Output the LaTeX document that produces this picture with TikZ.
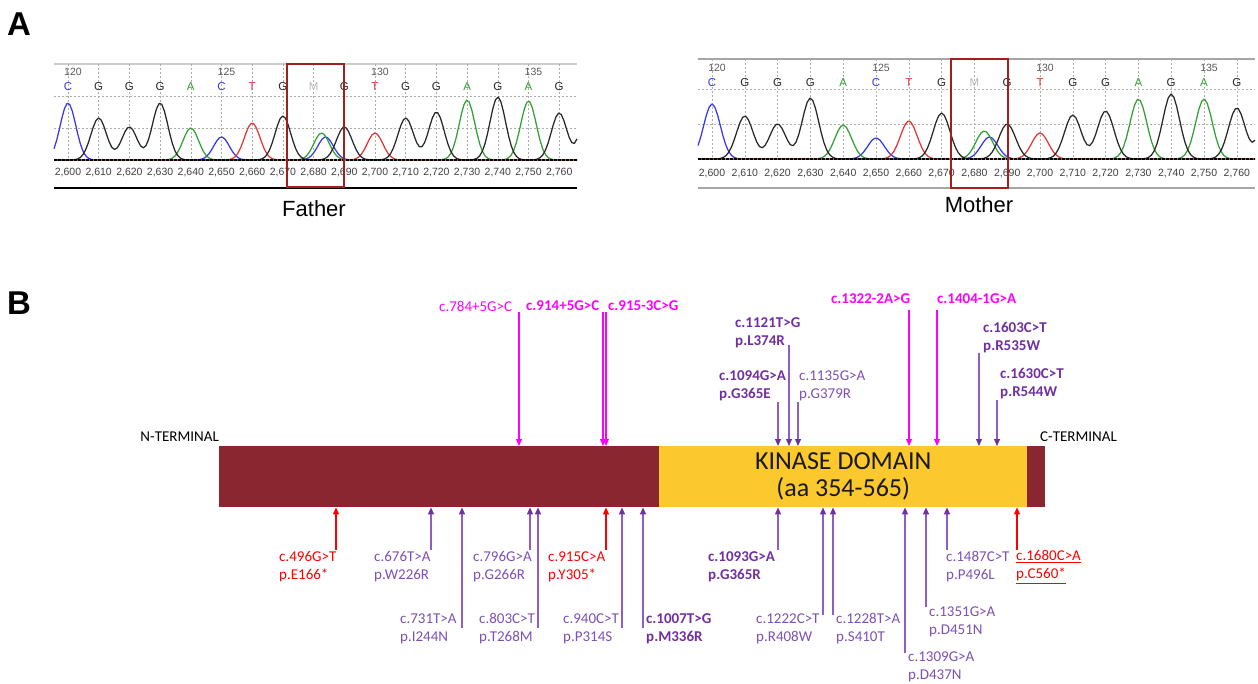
\documentclass[tikz,border=0pt]{standalone}
\usepackage{fontspec}
\setmainfont{Carlito}
\newfontfamily\arialfont{Liberation Sans}
\usetikzlibrary{positioning,arrows.meta}

\definecolor{barred}{RGB}{138,38,48}
\definecolor{baryellow}{RGB}{251,200,45}
\definecolor{mutpurple}{RGB}{112,48,160}
\definecolor{labpurple}{RGB}{125,80,180}
\definecolor{linepurple}{RGB}{140,95,200}
\definecolor{mutmagenta}{RGB}{255,0,255}
\definecolor{mutred}{RGB}{255,0,0}
\definecolor{baseC}{RGB}{55,55,235}
\definecolor{baseA}{RGB}{50,160,50}
\definecolor{baseT}{RGB}{225,55,55}
\definecolor{baseG}{RGB}{40,40,40}
\definecolor{boxred}{RGB}{165,30,30}

\tikzset{
	chromatogram/.style={
		declare function={
			pk(\d,\w)=exp(-min((\d/\w)*(\d/\w),20));
			fp(\u,\n,\h)=\h*pk(\u-68-30.7*\n,11);
			mp(\u,\n,\h)=\h*pk(\u-712-32.8*\n,11.8);
		}
	},
	grid v/.style={draw=gray!65, line width=0.6pt, dash pattern=on 2pt off 2pt},
	grid h/.style={draw=gray!65, line width=0.8pt, dash pattern=on 2pt off 2pt},
	top rule/.style={draw=gray!40, line width=1.5pt},
	zero line/.style={draw=black, line width=1.8pt, dash pattern=on 3pt off 1pt},
	trace/.style={line width=1.25pt, line join=round},
	base/.style={font=\arialfont\fontsize{11.5}{11.5}\selectfont, inner sep=0pt},
	base C/.style={base, text=baseC},
	base G/.style={base, text=baseG},
	base A/.style={base, text=baseA},
	base T/.style={base, text=baseT},
	base M/.style={base, text=gray!55},
	tick label/.style={font=\arialfont\fontsize{10.5}{10.5}\selectfont, text=black!75, inner sep=0pt},
	position label/.style={tick label, text=black!65},
	call box/.style={draw=boxred, line width=2pt},
	parent/.style={font=\arialfont\fontsize{22}{22}\selectfont, inner sep=0pt},
	panel/.style={font=\arialfont\bfseries\fontsize{33}{33}\selectfont, inner sep=0pt, anchor=north west}
}
\tikzset{
	protein bar/.style={fill=barred, inner sep=0pt, minimum width=826pt, minimum height=61pt, anchor=north west},
	kinase region/.style={fill=baryellow, inner sep=0pt, minimum width=368pt, minimum height=61pt, anchor=north west,
		align=center, font=\fontsize{26}{27}\selectfont, text=black!90},
	terminus/.style={font=\fontsize{15}{18}\selectfont, inner sep=0pt},
	mutation/.style={font=\fontsize{15}{18}\selectfont, text=labpurple, align=left, inner sep=0pt, anchor=west},
	heavy/.style={font=\fontsize{15}{18}\selectfont\bfseries},
	bold missense/.style={mutation, heavy, text=mutpurple},
	splice/.style={mutation, text=mutmagenta},
	nonsense/.style={mutation, text=mutred},
	hit/.style={line width=1.2pt, -{Triangle[length=7pt,width=6pt]}},
	missense hit/.style={hit, draw=linepurple, -{Triangle[length=7pt,width=6pt,color=mutpurple]}},
	splice hit/.style={hit, draw=mutmagenta},
	nonsense hit/.style={hit, draw=mutred}
}

\begin{document}
\begin{tikzpicture}[x=1pt, y=-1pt, chromatogram]
	\useasboundingbox (0,0) rectangle (1258,683);

	\node[panel] (pA) at (7,13) {A};
	\node[panel] (pB) at (7,292) {B};

	% father trace
	\draw[top rule] (54,64) -- (577,64);
	\foreach \i in {0,...,16}
		\draw[grid v] ({68+30.7*\i},64) -- ({68+30.7*\i},160);
	\draw[grid h] (54,96) -- (577,96);
	\draw[grid h] (54,128) -- (577,128);
	\foreach \p [count=\i from 0] in {120,125,130,135}
		\node[position label] (fpos\i) at ({73+153.5*\i},72) {\p};
	\foreach \b [count=\i from 0] in {C,G,G,G,A,C,T,G,M,G,T,G,G,A,G,A,G}
		\node[base \b] (fb\i) at ({68+30.7*\i},87) {\b};
	\draw[trace, baseC] plot[domain=54:577, samples=200] (\x, {160-(fp(\x,0,57)+fp(\x,5,23)+fp(\x,8.39,23))});
	\draw[trace, baseA] plot[domain=54:577, samples=200] (\x, {160-(fp(\x,4,32)+fp(\x,8.26,27)+fp(\x,13,60)+fp(\x,15,59))});
	\draw[trace, baseT] plot[domain=54:577, samples=200] (\x, {160-(fp(\x,6,37)+fp(\x,10,27))});
	\draw[trace, baseG] plot[domain=54:577, samples=200] (\x, {160-(fp(\x,1,42)+fp(\x,2,33)+fp(\x,3,57)+fp(\x,7,44)+fp(\x,9,33)+fp(\x,11,42)+fp(\x,12,48)+fp(\x,14,63)+fp(\x,16,47)+fp(\x,17,70))});
	\draw[zero line] (54,160) -- (577,160);
	\foreach \t [count=\i from 0] in {600,610,...,760}
		\node[tick label] (ft\i) at ({68+30.7*\i},173) {2,\t};
	\draw[line width=1.8pt] (54,188) -- (577,188);
	\draw[call box] (287,64) rectangle (344,187);
	\node[parent] (father) at (314,209) {Father};

	% mother trace
	\draw[top rule, draw=gray!70] (698,59) -- (1255,59);
	\foreach \i in {0,...,16}
		\draw[grid v] ({712+32.8*\i},59) -- ({712+32.8*\i},159);
	\draw[grid h] (698,89) -- (1255,89);
	\draw[grid h] (698,124) -- (1255,124);
	\foreach \p [count=\i from 0] in {120,125,130,135}
		\node[position label] (mpos\i) at ({717+164*\i},68) {\p};
	\foreach \b [count=\i from 0] in {C,G,G,G,A,C,T,G,M,G,T,G,G,A,G,A,G}
		\node[base \b] (mb\i) at ({712+32.8*\i},83) {\b};
	\draw[trace, baseC] plot[domain=698:1255, samples=200] (\x, {159-(mp(\x,0,55)+mp(\x,5,21)+mp(\x,8.46,22))});
	\draw[trace, baseA] plot[domain=698:1255, samples=200] (\x, {159-(mp(\x,4,34)+mp(\x,8.3,28)+mp(\x,13,60)+mp(\x,15,60))});
	\draw[trace, baseT] plot[domain=698:1255, samples=200] (\x, {159-(mp(\x,6,38)+mp(\x,10,26))});
	\draw[trace, baseG] plot[domain=698:1255, samples=200] (\x, {159-(mp(\x,1,43)+mp(\x,2,35)+mp(\x,3,61)+mp(\x,7,46)+mp(\x,9,35)+mp(\x,11,44)+mp(\x,12,48)+mp(\x,14,65)+mp(\x,16,51)+mp(\x,17,65))});
	\draw[zero line] (698,159) -- (1255,159);
	\foreach \t [count=\i from 0] in {600,610,...,760}
		\node[tick label] (mt\i) at ({712+32.8*\i},174) {2,\t};
	\draw[line width=1.3pt, gray!70] (698,188) -- (1255,188);
	\draw[call box] (951,59) rectangle (1008,188);
	\node[parent] (mother) at (979,205) {Mother};

	% protein
	\node[protein bar] (protein) at (219,446) {};
	\node[kinase region] (kinase) at (659,446) {KINASE DOMAIN\\(aa 354-565)};
	\node[terminus, anchor=south east] (nterm) at (219,442) {N-TERMINAL};
	\node[terminus, anchor=south west] (cterm) at (1040,442) {C-TERMINAL};

	% variants above the bar
	\node[splice] (m784) at (439,306) {c.784+5G>C};
	\node[splice, heavy] (m914) at (526,306) {c.914+5G>C};
	\node[splice, heavy] (m915s) at (608,306) {c.915-3C>G};
	\node[splice, heavy] (m1322) at (831,299) {c.1322-2A>G};
	\node[splice, heavy] (m1404) at (937,299) {c.1404-1G>A};
	\node[bold missense] (m1121) at (735,332.5) {c.1121T>G\\p.L374R};
	\node[bold missense] (m1094) at (719,385.5) {c.1094G>A\\p.G365E};
	\node[mutation] (m1135) at (799,385.5) {c.1135G>A\\p.G379R};
	\node[bold missense] (m1603) at (983,338) {c.1603C>T\\p.R535W};
	\node[bold missense] (m1630) at (1000,383.5) {c.1630C>T\\p.R544W};

	\coordinate (a784) at (519,312);
	\coordinate (a914) at (603,312);
	\coordinate (a915s) at (606,312);
	\coordinate (a1322) at (909,310);
	\coordinate (a1404) at (937,310);
	\coordinate (a1121) at (789,345);
	\coordinate (a1094) at (778,402);
	\coordinate (a1135) at (798,402);
	\coordinate (a1603) at (979,353);
	\coordinate (a1630) at (997,400);
	\foreach \a in {a784,a914,a915s,a1322,a1404}
		\draw[splice hit] (\a) -- (\a |- protein.north);
	\foreach \a in {a1121,a1094,a1135,a1603,a1630}
		\draw[missense hit] (\a) -- (\a |- protein.north);

	% variants below the bar
	\node[nonsense] (m496) at (279,567) {c.496G>T\\p.E166*};
	\node[mutation] (m676) at (374,567) {c.676T>A\\p.W226R};
	\node[mutation] (m731) at (400,629) {c.731T>A\\p.I244N};
	\node[mutation] (m796) at (473,567) {c.796G>A\\p.G266R};
	\node[mutation] (m803) at (479,629) {c.803C>T\\p.T268M};
	\node[nonsense] (m915) at (548,567) {c.915C>A\\p.Y305*};
	\node[mutation] (m940) at (563,629) {c.940C>T\\p.P314S};
	\node[bold missense] (m1007) at (646,629) {c.1007T>G\\p.M336R};
	\node[bold missense] (m1093) at (708,567) {c.1093G>A\\p.G365R};
	\node[mutation] (m1222) at (756,628.5) {c.1222C>T\\p.R408W};
	\node[mutation] (m1228) at (836,628.5) {c.1228T>A\\p.S410T};
	\node[mutation] (m1309) at (908,666.5) {c.1309G>A\\p.D437N};
	\node[mutation] (m1351) at (929,621.5) {c.1351G>A\\p.D451N};
	\node[mutation] (m1487) at (946,567) {c.1487C>T\\p.P496L};
	\node[nonsense] (m1680) at (1016,567) {\underline{c.1680C>A}\\\underline{p.C560*}};

	\coordinate (a496) at (336,550);
	\coordinate (a676) at (431,550);
	\coordinate (a731) at (462,628);
	\coordinate (a796) at (530,550);
	\coordinate (a803) at (538,628);
	\coordinate (a915) at (606,550);
	\coordinate (a940) at (622,628);
	\coordinate (a1007) at (643,628);
	\coordinate (a1093) at (778,550);
	\coordinate (a1222) at (823,615);
	\coordinate (a1228) at (833,615);
	\coordinate (a1309) at (905,653);
	\coordinate (a1351) at (926,607);
	\coordinate (a1487) at (947,550);
	\coordinate (a1680) at (1017,550);
	\foreach \a in {a496,a915,a1680}
		\draw[nonsense hit] (\a) -- (\a |- protein.south);
	\foreach \a in {a676,a731,a796,a803,a940,a1007,a1093,a1222,a1228,a1309,a1351,a1487}
		\draw[missense hit] (\a) -- (\a |- protein.south);
\end{tikzpicture}
\end{document}
